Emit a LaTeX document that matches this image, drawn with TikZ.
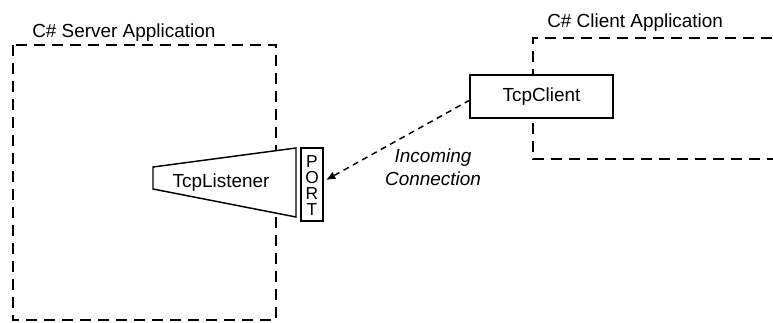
\documentclass[tikz,border=0pt]{standalone}
\usepackage{fontspec}
\setmainfont{Liberation Sans}
\usetikzlibrary{arrows.meta}
\begin{document}
\begin{tikzpicture}[x=0.75pt,y=-0.75pt,
  appbox/.style={line width=1.4pt, dash pattern=on 8.5pt off 5pt},
  solidbox/.style={draw, line width=1.1pt, fill=white},
  lbl/.style={font=\fontsize{14.2}{16}\selectfont, inner sep=0pt},
  conn/.style={line width=1.1pt, dash pattern=on 4.5pt off 3.5pt, -{Latex[length=7pt,width=6pt]}}
]
\useasboundingbox (0,0) rectangle (773,322);
\clip (0,0) rectangle (773,322);
% server application boundary
\draw[appbox] (13,45) rectangle (276,320);
\node[lbl, anchor=base west] (srvlbl) at (32,37) {C\# Server Application};
% client application boundary
\draw[appbox] (790,38) -- (533,38) -- (533,159) -- (790,159);
\node[lbl, anchor=base west] (clilbl) at (547,27) {C\# Client Application};
% TcpListener trapezoid
\draw[line width=1.1pt, fill=white] (153,167) -- (296,148) -- (296,217) -- (153,189) -- cycle;
\node[lbl] (listener) at (221,183) {TcpListener};
% PORT box
\node[solidbox, minimum width=22*0.75pt, minimum height=73*0.75pt, inner sep=0pt] (port) at (312,184.5) {};
\node[font=\fontsize{13}{12}\selectfont, align=center, inner sep=0pt] (portlbl) at (312,186) {P\\O\\R\\T};
% TcpClient box
\node[solidbox, minimum width=143*0.75pt, minimum height=43*0.75pt, inner sep=0pt, font=\fontsize{14.2}{16}\selectfont] (client) at (541.5,96.5) {TcpClient};
% connection
\coordinate (cstart) at (470,100);
\coordinate (ptip) at (326,180);
\draw[conn] (cstart) -- (ptip);
\node[lbl, font=\fontsize{14.2}{17}\selectfont\itshape, align=center] (inc) at (433,167) {Incoming\\Connection};
\end{tikzpicture}
\end{document}
